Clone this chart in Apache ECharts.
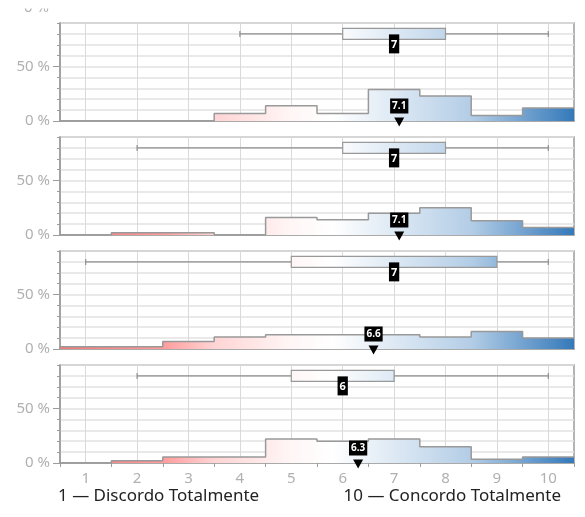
<!DOCTYPE html>
<html>
<head>
<meta charset="utf-8">
<script src="https://cdn.jsdelivr.net/npm/echarts@6/dist/echarts.min.js"></script>
<style>
  html, body { margin: 0; padding: 0; background: #fff; }
  #chart { width: 585px; height: 517px; }
</style>
</head>
<body>
<div id="chart"></div>
<script>
const scores = [1, 2, 3, 4, 5, 6, 7, 8, 9, 10];
const tickEdges = [0.5, 1.5, 2.5, 3.5, 4.5, 5.5, 6.5, 7.5, 8.5, 9.5, 10.5];
const yLabelValues = [0, 50];

// share of answers (%) per score, one array per panel
const pctPanel1 = [0, 0, 0, 7, 14, 7, 29, 23, 5, 12];
const pctPanel2 = [0, 2, 2, 0, 16, 14, 20, 25, 13, 7];
const pctPanel3 = [2, 2, 7, 11, 13, 13, 13, 11, 16, 10];
const pctPanel4 = [0, 2, 5.5, 5.5, 22, 20, 22, 15, 3.5, 5.5];
const histograms = [pctPanel1, pctPanel2, pctPanel3, pctPanel4];

const whiskerLow = [4, 2, 1, 2];
const boxQ1 = [6, 6, 5, 5];
const boxMedian = [7, 7, 7, 6];
const boxQ3 = [8, 8, 9, 7];
const whiskerHigh = [10, 10, 10, 10];
const means = [7.1, 7.1, 6.6, 6.3];

const leftLabel = '1 — Discordo Totalmente';
const rightLabel = '10 — Concordo Totalmente';

const FONT = '"Noto Sans", sans-serif';
const FRAME = '#9c9c9c';
const GRID_LINE = '#e2e2e2';
const BOX_Y = 80;
const BOX_HALF = 5;
const PANEL_TOP = [23, 137, 251, 365];

const fillStops = [
  { offset: 0, color: '#f27a7a' },
  { offset: 0.2, color: '#ff9c9c' },
  { offset: 0.3, color: '#ffd4d4' },
  { offset: 0.45, color: '#fff6f6' },
  { offset: 0.53, color: '#ffffff' },
  { offset: 0.8, color: '#b3cde6' },
  { offset: 1, color: '#3479ba' }
];

function stepPoints(values) {
  return values.flatMap((v, i) => [[scores[i] - 0.5, v], [scores[i] + 0.5, v]]);
}

const grids = [];
const xAxes = [];
const yAxes = [];
const series = [];

PANEL_TOP.forEach((top, i) => {
  const isLast = i === PANEL_TOP.length - 1;
  grids.push({
    left: 60, right: 11, top: top, height: 98,
    show: true, borderColor: FRAME, borderWidth: 1.5, backgroundColor: 'transparent'
  });

  // main x axis: frame line, half-step ticks, integer labels on the last panel
  xAxes.push({
    type: 'value', gridIndex: i, min: 0.5, max: 10.5,
    axisLine: { show: true, lineStyle: { color: FRAME, width: 1.5 } },
    axisTick: { show: isLast, customValues: tickEdges, length: 4, lineStyle: { color: FRAME } },
    axisLabel: {
      show: isLast, customValues: scores, margin: 8,
      color: '#b0b0b0', fontSize: 15, fontFamily: FONT
    },
    splitLine: { show: false }
  });
  // second x axis only for the vertical grid lines at the integers
  xAxes.push({
    type: 'value', gridIndex: i, min: 0.5, max: 10.5,
    axisLine: { show: false },
    axisTick: { show: false, customValues: scores },
    axisLabel: { show: false },
    splitLine: { show: true, lineStyle: { color: '#dadada', width: 1 } }
  });

  yAxes.push({
    type: 'value', gridIndex: i, min: 0, max: 90, interval: 10, position: 'left',
    axisLine: { show: true, lineStyle: { color: FRAME, width: 1.5 } },
    axisTick: { show: true, length: 3, lineStyle: { color: FRAME } },
    axisLabel: { show: false },
    splitLine: { show: true, lineStyle: { color: GRID_LINE, width: 1.5 } }
  });
  yAxes.push({
    type: 'value', gridIndex: i, min: 0, max: 90, position: 'left',
    axisLine: { show: false },
    axisTick: { show: true, customValues: yLabelValues, length: 7, lineStyle: { color: FRAME } },
    axisLabel: {
      customValues: yLabelValues, formatter: '{value} %', margin: 10,
      color: '#b0b0b0', fontSize: 15, fontFamily: FONT
    },
    splitLine: { show: false }
  });

  const xi = i * 2;
  const yi = i * 2;

  series.push({
    type: 'line', xAxisIndex: xi, yAxisIndex: yi,
    data: stepPoints(histograms[i]),
    showSymbol: false, silent: true, z: 2,
    lineStyle: { color: '#999999', width: 1.5 },
    areaStyle: {
      opacity: 1,
      color: new echarts.graphic.LinearGradient(0, 0, 1, 0, fillStops)
    }
  });

  series.push({
    type: 'custom', xAxisIndex: xi, yAxisIndex: yi, clip: false, z: 3, silent: true,
    data: [[whiskerLow[i], boxQ1[i], boxMedian[i], boxQ3[i], whiskerHigh[i]]],
    encode: { x: [0, 1, 2, 3, 4], y: 1 },
    renderItem(params, api) {
      const lo = api.coord([api.value(0), BOX_Y]);
      const hi = api.coord([api.value(4), BOX_Y]);
      const q1 = api.coord([api.value(1), BOX_Y + BOX_HALF]);
      const q3 = api.coord([api.value(3), BOX_Y - BOX_HALF]);
      const x0 = api.coord([0.5, 0])[0];
      const x1 = api.coord([10.5, 0])[0];
      const stroke = { stroke: '#8f8f8f', lineWidth: 1.2 };
      return {
        type: 'group',
        children: [
          { type: 'line', shape: { x1: lo[0], y1: lo[1], x2: hi[0], y2: hi[1] }, style: stroke },
          { type: 'line', shape: { x1: lo[0], y1: lo[1] - 3, x2: lo[0], y2: lo[1] + 3 }, style: stroke },
          { type: 'line', shape: { x1: hi[0], y1: hi[1] - 3, x2: hi[0], y2: hi[1] + 3 }, style: stroke },
          {
            type: 'rect',
            shape: { x: q1[0], y: q1[1], width: q3[0] - q1[0], height: q3[1] - q1[1] },
            style: {
              fill: new echarts.graphic.LinearGradient(x0, 0, x1, 0, fillStops, true),
              stroke: '#999999', lineWidth: 1.2
            }
          }
        ]
      };
    }
  });

  series.push({
    type: 'scatter', xAxisIndex: xi, yAxisIndex: yi, clip: false, z: 5, silent: true,
    data: [[boxMedian[i], BOX_Y]],
    symbolSize: 1, itemStyle: { color: 'rgba(0,0,0,0)', opacity: 1 },
    label: {
      show: true, position: 'bottom', distance: 0, opacity: 1,
      formatter: p => String(p.value[0]),
      backgroundColor: '#000000', color: '#ffffff', fontWeight: 'bold',
      fontSize: 11, lineHeight: 12, padding: [4, 2, 3, 2], fontFamily: FONT
    }
  });

  series.push({
    type: 'scatter', xAxisIndex: xi, yAxisIndex: yi, clip: false, z: 6, silent: true,
    data: [[means[i], 0]],
    symbol: 'triangle', symbolRotate: 180, symbolSize: [10, 9], symbolOffset: [0, 1],
    itemStyle: { color: '#000000', opacity: 1 },
    label: {
      show: true, position: 'top', distance: 4, opacity: 1,
      formatter: p => p.value[0].toFixed(1),
      backgroundColor: '#000000', color: '#ffffff', fontWeight: 'bold',
      fontSize: 10, lineHeight: 11, padding: [2, 2], fontFamily: FONT
    }
  });
});

const chart = echarts.init(document.getElementById('chart'));
chart.setOption({
  animation: false,
  backgroundColor: '#fff',
  grid: grids,
  xAxis: xAxes,
  yAxis: yAxes,
  series: series,
  graphic: [
    {
      type: 'text', left: 58, top: 488, z: 10,
      style: { text: leftLabel, fill: '#222', font: '17px ' + FONT }
    },
    {
      type: 'text', right: 24, top: 488, z: 10,
      style: { text: rightLabel, fill: '#222', font: '17px ' + FONT }
    },
    {
      type: 'text', x: 49, y: 8, z: 10,
      style: { text: '0 %', fill: '#b0b0b0', font: '15px ' + FONT, align: 'right', verticalAlign: 'middle' }
    },
    {
      type: 'rect', shape: { x: 0, y: 0, width: 70, height: 8.5 }, z: 11,
      style: { fill: '#fff' }
    }
  ]
});
</script>
</body>
</html>
